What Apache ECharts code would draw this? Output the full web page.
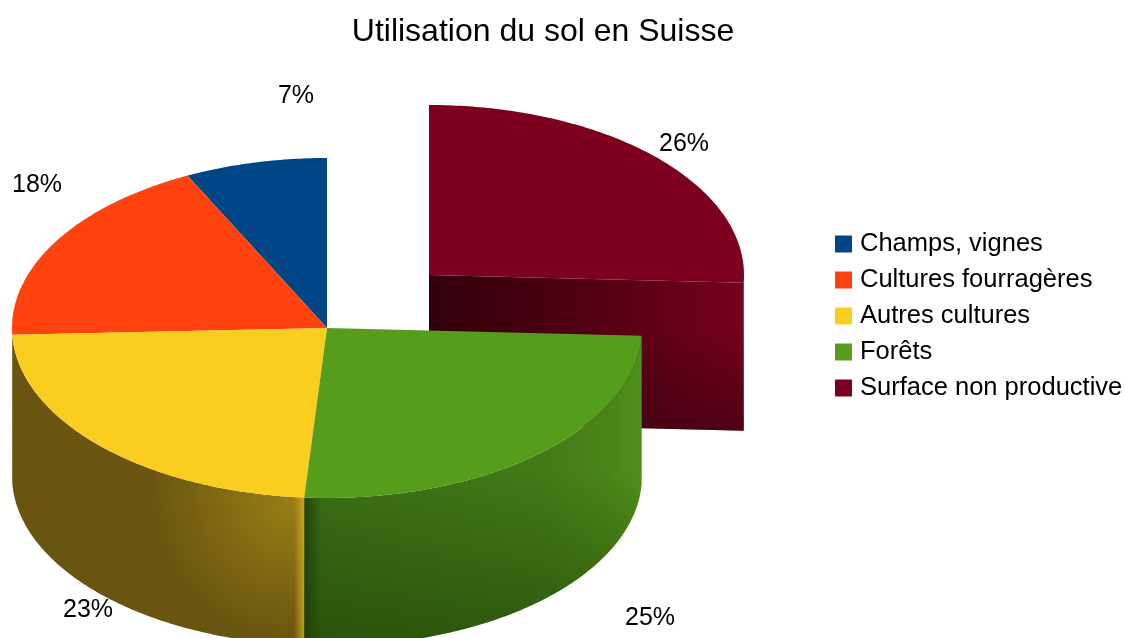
<!DOCTYPE html>
<html>
<head>
<meta charset="utf-8">
<title>Utilisation du sol en Suisse</title>
<script src="https://cdn.jsdelivr.net/npm/echarts@6/dist/echarts.min.js"></script>
<style>
    html, body { margin: 0; padding: 0; background: #fff; }
    #chart { width: 1125px; height: 638px; }
</style>
</head>
<body>
<div id="chart"></div>
<script>
// valeurs (%)
const categories = ['Champs, vignes', 'Cultures fourragères', 'Autres cultures', 'Forêts', 'Surface non productive'];
const values = [7.3, 18.3, 23.2, 25.4, 25.7];
const colors = ['#004586', '#ff420e', '#f9ce1f', '#579d1c', '#7e0021'];

// ellipse du dessus, epaisseur, part detachee
const cx = 327, cy = 328, rx = 315, ry = 170, depth = 148;
const exploded = { 4: [102, -53] };
const labelPos = [[296, 96], [37, 185], [88, 610], [650, 618], [684, 144]];

const total = values.reduce((a, b) => a + b, 0);
const LG = echarts.graphic.LinearGradient, RG = echarts.graphic.RadialGradient;

// angle en radians depuis midi, sens antihoraire comme dans l'original
function sliceAngles(i) {
    let before = 0;
    for (let k = 0; k < i; k++) before += values[k];
    return [before / total * 2 * Math.PI, (before + values[i]) / total * 2 * Math.PI];
}
function pt(a, ox, oy, dy) {
    return [cx + ox - rx * Math.sin(a), cy + oy - ry * Math.cos(a) + dy];
}
function arc(a0, a1, ox, oy, dy) {
    let pts = [];
    let n = Math.max(2, Math.ceil(Math.abs(a1 - a0) * 80));
    for (let j = 0; j <= n; j++) pts.push(pt(a0 + (a1 - a0) * j / n, ox, oy, dy));
    return pts;
}
function poly(points, fill) {
    return { type: 'polygon', silent: true, shape: { points: points }, style: { fill: fill } };
}

// couches d'ombrage du flanc, une liste par part
const wallFills = {
    2: [
        new RG(300, 492, 150, [
            { offset: 0, color: '#9c8116' }, { offset: 1, color: '#69550f' }
        ], true),
        new LG(294, 0, 306, 0, [
            { offset: 0, color: 'rgba(210,170,30,0)' }, { offset: 1, color: 'rgba(210,170,30,1)' }
        ], true)
    ],
    3: [
        new LG(305, 0, 642, 0, [
            { offset: 0, color: '#22470b' }, { offset: 0.05, color: '#3c6f15' },
            { offset: 0.7, color: '#437a17' }, { offset: 0.9, color: '#4a8518' }, { offset: 1, color: '#509018' }
        ], true),
        new LG(0, 470, 0, 640, [
            { offset: 0, color: 'rgba(30,60,5,0)' }, { offset: 1, color: 'rgba(30,60,5,0.55)' }
        ], true)
    ],
    4: [new LG(0, 280, 0, 430, [
        { offset: 0, color: '#7a0020' }, { offset: 1, color: '#520015' }
    ], true)]
};
const cutFills = {
    4: [
        new LG(429, 0, 745, 0, [
            { offset: 0, color: '#30000a' }, { offset: 1, color: '#74001f' }
        ], true),
        new LG(0, 330, 0, 430, [
            { offset: 0, color: 'rgba(40,0,10,0)' }, { offset: 1, color: 'rgba(40,0,10,0.45)' }
        ], true)
    ]
};

function renderSlice(i) {
    const [a0, a1] = sliceAngles(i);
    const off = exploded[i] || [0, 0];
    const ox = off[0], oy = off[1];
    let children = [];
    // flanc avant : seulement la partie de l'arc tournee vers nous
    const w0 = Math.max(a0, Math.PI / 2), w1 = Math.min(a1, Math.PI * 1.5);
    if (w1 > w0) {
        const top = arc(w0, w1, ox, oy, 0);
        const bottom = arc(w1, w0, ox, oy, depth);
        (wallFills[i] || [colors[i]]).forEach(f => children.push(poly(top.concat(bottom), f)));
    }
    // face de coupe de la part detachee
    if (cutFills[i]) {
        const c = [cx + ox, cy + oy];
        const e = pt(a0, ox, oy, 0);
        const face = [c, e, [e[0], e[1] + depth], [c[0], c[1] + depth]];
        cutFills[i].forEach(f => children.push(poly(face, f)));
    }
    // dessus
    children.push(poly([[cx + ox, cy + oy]].concat(arc(a0, a1, ox, oy, 0)), colors[i]));
    children.push({
        type: 'text', silent: true, z2: 100,
        style: {
            x: labelPos[i][0], y: labelPos[i][1],
            text: Math.round(values[i] / total * 100) + '%',
            fill: '#000', font: '25px "Liberation Sans"',
            align: 'center', verticalAlign: 'middle'
        }
    });
    return { type: 'group', children: children };
}

const chart = echarts.init(document.getElementById('chart'));
chart.setOption({
    animation: false,
    backgroundColor: '#fff',
    title: {
        text: 'Utilisation du sol en Suisse',
        left: 538, top: 11, textAlign: 'center',
        textStyle: { fontFamily: 'Liberation Sans', fontSize: 32, fontWeight: 'normal', color: '#000' }
    },
    legend: {
        data: categories,
        orient: 'vertical', left: 830, top: 226,
        itemWidth: 17, itemHeight: 17, itemGap: 10, icon: 'rect',
        selectedMode: false,
        textStyle: { fontFamily: 'Liberation Sans', fontSize: 25.5, color: '#000', padding: [0, 0, 0, 3] }
    },
    series: categories.map((name, i) => ({
        type: 'custom',
        name: name,
        coordinateSystem: 'none',
        z: i == 4 ? 1 : i + 2,
        itemStyle: { color: colors[i] },
        data: [values[i]],
        renderItem: () => renderSlice(i)
    }))
});
</script>
</body>
</html>
